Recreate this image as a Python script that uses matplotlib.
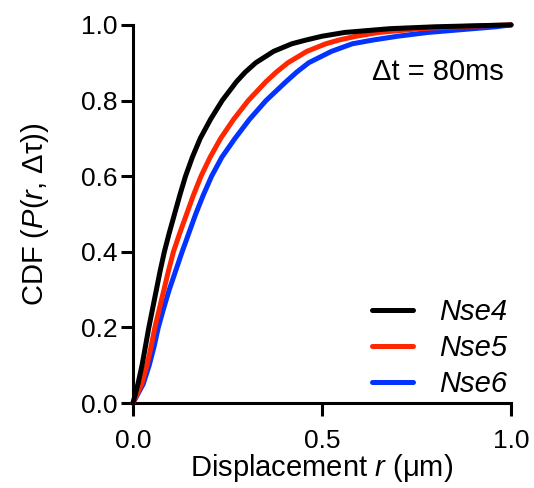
import matplotlib
matplotlib.use("Agg")
import matplotlib.pyplot as plt
from matplotlib.ticker import FormatStrFormatter

plt.rcParams["font.family"] = ["Liberation Sans", "DejaVu Sans"]
plt.rcParams["mathtext.fontset"] = "custom"
plt.rcParams["mathtext.rm"] = "Liberation Sans"
plt.rcParams["mathtext.it"] = "Liberation Sans:italic"

# CDF levels and the displacement (um) at which each strain reaches them
cdf = [0.0, 0.05, 0.1, 0.15, 0.2, 0.25, 0.3, 0.35, 0.4, 0.45, 0.5, 0.55,
       0.6, 0.65, 0.7, 0.75, 0.8, 0.85, 0.875, 0.9, 0.93, 0.95, 0.96, 0.97,
       0.98, 0.99, 0.995, 1.0]
nse4 = [0.0, 0.013, 0.024, 0.033, 0.042, 0.052, 0.062, 0.072, 0.083, 0.096,
        0.11, 0.124, 0.139, 0.157, 0.178, 0.205, 0.236, 0.274, 0.297, 0.325,
        0.372, 0.42, 0.458, 0.5, 0.56, 0.68, 0.8, 1.0]
nse5 = [0.0, 0.023, 0.037, 0.048, 0.058, 0.07, 0.082, 0.094, 0.107, 0.124,
        0.142, 0.16, 0.18, 0.204, 0.232, 0.266, 0.305, 0.352, 0.379, 0.41,
        0.46, 0.51, 0.545, 0.59, 0.65, 0.76, 0.85, 1.0]
nse6 = [0.0, 0.027, 0.043, 0.056, 0.067, 0.081, 0.096, 0.113, 0.13, 0.148,
        0.166, 0.186, 0.208, 0.235, 0.27, 0.308, 0.352, 0.405, 0.433, 0.465,
        0.525, 0.58, 0.635, 0.7, 0.78, 0.9, 0.96, 1.0]

labels = ["Nse4", "Nse5", "Nse6"]
colors = ["black", "#FF2600", "#0433FF"]

fig = plt.figure(figsize=(5.34, 4.88), dpi=100)
ax = fig.add_axes([0.249, 0.174, 0.708, 0.775])

for i, (xs, lab, c) in enumerate(zip([nse4, nse5, nse6], labels, colors)):
    ax.plot(xs, cdf, color=c, lw=3.6, label=lab, zorder=5 - i,
            solid_capstyle="round", solid_joinstyle="round", clip_on=False)

ax.set_xlim(0, 1)
ax.set_ylim(0, 1)
ax.set_xticks([0, 0.5, 1.0])
ax.set_yticks([0, 0.2, 0.4, 0.6, 0.8, 1.0])
ax.xaxis.set_major_formatter(FormatStrFormatter("%.1f"))
ax.yaxis.set_major_formatter(FormatStrFormatter("%.1f"))

for s in ["top", "right"]:
    ax.spines[s].set_visible(False)
for s in ["left", "bottom"]:
    ax.spines[s].set_linewidth(2.2)
ax.tick_params(width=2.2, length=9, labelsize=19)
ax.tick_params(axis="x", pad=10)
ax.tick_params(axis="y", pad=2)

ax.set_xlabel("Displacement $r$ (μm)", fontsize=21, labelpad=-1)
ax.set_ylabel("CDF ($P$($r$, Δτ))", fontsize=21, labelpad=22)

ax.text(0.98, 0.876, "Δt = 80ms", fontsize=21, ha="right", va="center",
        transform=ax.transAxes)

ax.legend(loc="lower right", bbox_to_anchor=(1.045, -0.04), frameon=False,
          handlelength=1.4, handletextpad=0.9, labelspacing=0.27,
          borderpad=0.2, prop={"style": "italic", "size": 21})

fig.savefig("out.png", dpi=100)
